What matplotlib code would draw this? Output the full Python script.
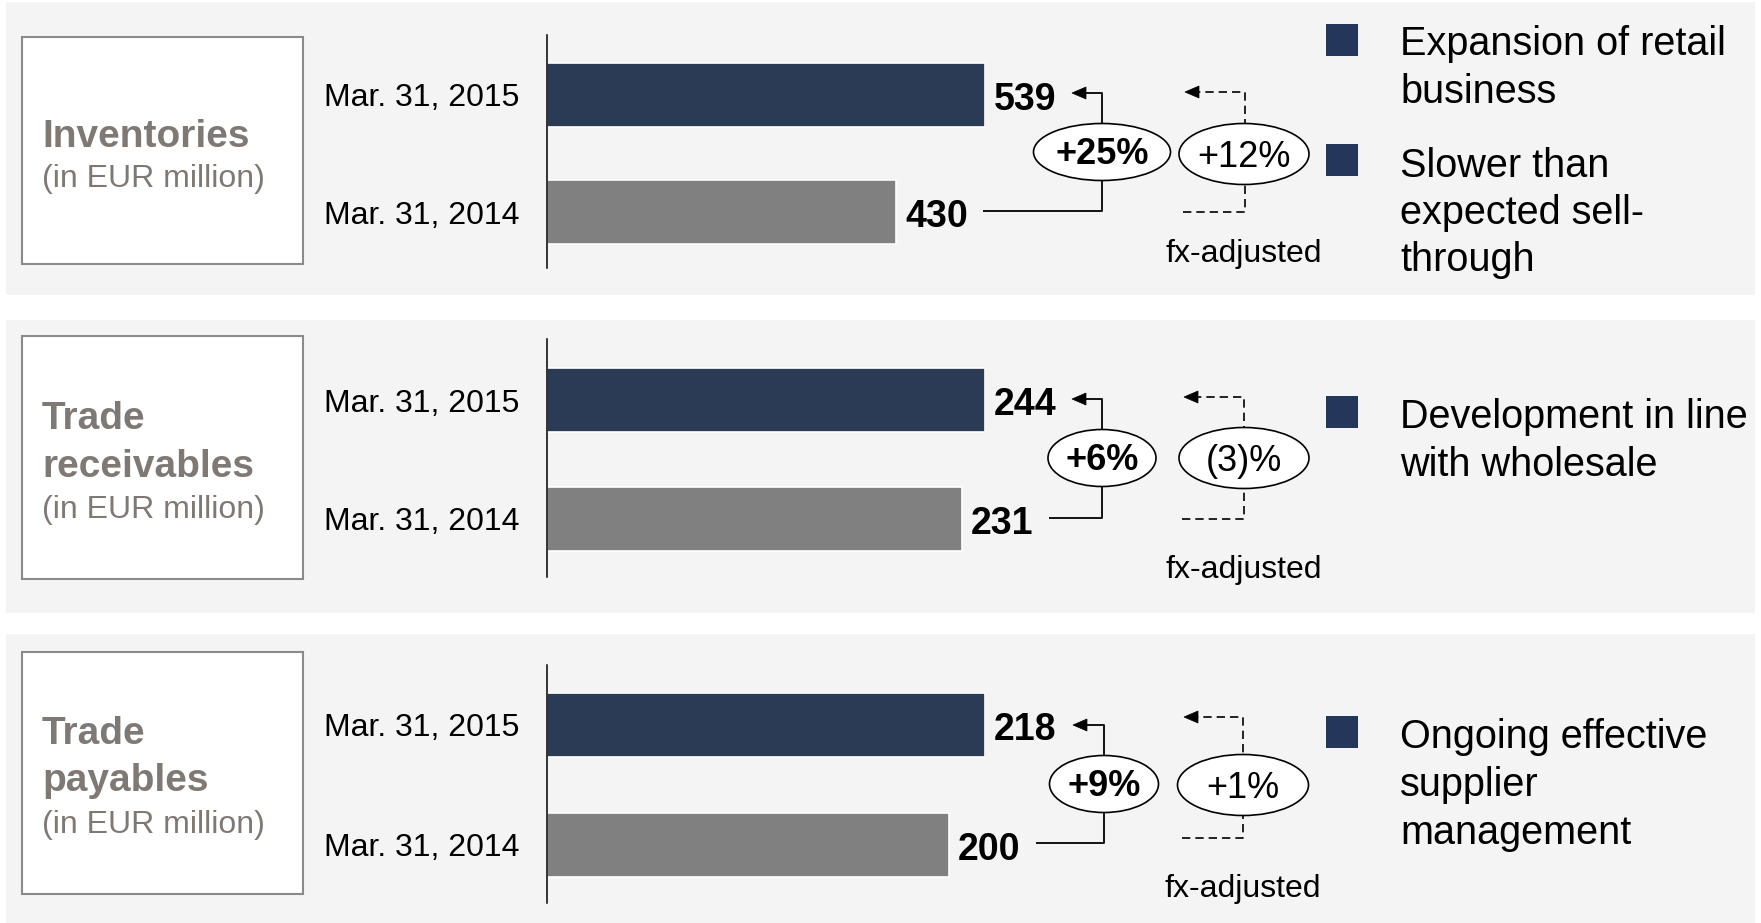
import matplotlib.pyplot as plt
from matplotlib.patches import Rectangle, Ellipse, Polygon

plt.rcParams['font.family'] = ['Liberation Sans', 'DejaVu Sans']

# data
title_lines = [["Inventories"], ["Trade", "receivables"], ["Trade", "payables"]]
unit = "(in EUR million)"
dates = ["Mar. 31, 2015", "Mar. 31, 2014"]
val_2015 = [539, 244, 218]
val_2014 = [430, 231, 200]
growth = ["+25%", "+6%", "+9%"]
growth_fx = ["+12%", "(3)%", "+1%"]
fx_label = "fx-adjusted"
bullets = [
    [["Expansion of retail", "business"], ["Slower than", "expected sell-", "through"]],
    [["Development in line", "with wholesale"]],
    [["Ongoing effective", "supplier", "management"]],
]

NAVY = "#2b3b56"
SQ = "#243659"
GREY = "#808080"
TITLE = "#7e7974"
BG = "#f4f4f4"

W, H = 1761, 923

# pixel layout of each panel
layout = [
    dict(bg=(2, 295), box=(37, 264), axis=(35, 268), bars=(95, 212),
         title=[147], unit=187, ell=(1102, 152, 137), fxell=(1244, 154, 130),
         brk=(1102, 1072, 93, 211), fxbrk=(1245, 1185, 1183, 92, 212), fxt=254,
         sq=[24, 144], bul=[[55, 103], [177, 224, 271]]),
    dict(bg=(320, 613), box=(336, 579), axis=(339, 577), bars=(400, 519),
         title=[429, 477], unit=518, ell=(1102, 458, 108), fxell=(1244, 458, 130),
         brk=(1102, 1072, 399, 518), fxbrk=(1244, 1184, 1182, 397, 519), fxt=570,
         sq=[396], bul=[[428, 476]]),
    dict(bg=(634, 923), box=(652, 894), axis=(665, 903), bars=(725, 845),
         title=[744, 791], unit=833, ell=(1104, 784, 109), fxell=(1243, 785, 131),
         brk=(1104, 1073, 725, 843), fxbrk=(1243, 1184, 1182, 717, 838), fxt=889,
         sq=[716], bul=[[748, 796, 844]]),
]

AX_L, AX_W = 547, 438

fig = plt.figure(figsize=(W / 100, H / 100), dpi=100)
ov = fig.add_axes([0, 0, 1, 1], zorder=0)
ov.set_xlim(0, W)
ov.set_ylim(H, 0)
ov.axis('off')


def head(x, y):
    ov.add_patch(Polygon([[x, y], [x + 14, y - 6], [x + 14, y + 6]], closed=True,
                         facecolor='black', edgecolor='black', lw=0.5, zorder=4))


for i, L in enumerate(layout):
    t, b = L['bg']
    ov.add_patch(Rectangle((6, t), 1749, b - t, facecolor=BG, edgecolor='none', zorder=0))
    t, b = L['box']
    ov.add_patch(Rectangle((22, t), 281, b - t, facecolor='white', edgecolor='#8a8a8a',
                           lw=1.5, zorder=1))
    for k, line in enumerate(title_lines[i]):
        ov.text(42, L['title'][k], line, fontsize=28, fontweight='bold', color=TITLE,
                ha='left', va='baseline', zorder=2)
    ov.text(42, L['unit'], unit, fontsize=23, color=TITLE, ha='left', va='baseline', zorder=2)

    # bars
    at, ab = L['axis']
    c0, c1 = L['bars']
    s = c1 - c0
    ax = fig.add_axes([AX_L / W, 1 - ab / H, AX_W / W, (ab - at) / H], zorder=1)
    ax.patch.set_alpha(0)
    ax.barh([0, 1], [val_2015[i], val_2014[i]], height=64 / s, color=[NAVY, GREY],
            edgecolor='white', lw=1.2)
    ax.set_xlim(0, val_2015[i])
    ax.set_ylim(1 + (ab - c1) / s, -(c0 - at) / s)
    ax.set_yticks([0, 1], dates, fontsize=23)
    ax.tick_params(axis='y', length=0, pad=20)
    ax.set_xticks([])
    for sp in ['top', 'right', 'bottom']:
        ax.spines[sp].set_visible(False)
    ax.spines['left'].set_linewidth(1.1)
    ax.spines['left'].set_color('black')
    for k, v in enumerate([val_2015[i], val_2014[i]]):
        ax.annotate(str(v), (v, k), xytext=(9, -15), textcoords='offset pixels',
                    fontsize=27, fontweight='bold', ha='left', va='baseline',
                    annotation_clip=False)

    # solid bracket
    xv, tip, yt, yb = L['brk']
    x0 = AX_L + AX_W * val_2014[i] / val_2015[i] + 87
    ov.plot([x0, xv, xv, tip + 10], [yb, yb, yt, yt], color='black', lw=1.3,
            solid_capstyle='butt', zorder=3)
    head(tip, yt)
    ex, ey, ew = L['ell']
    ov.add_patch(Ellipse((ex, ey), ew, 57, facecolor='white', edgecolor='black', lw=1.2, zorder=5))
    ov.text(ex, ey + 12, growth[i], fontsize=26, fontweight='bold', ha='center',
            va='baseline', zorder=6)

    # dashed bracket
    xd, tipd, x0d, ydt, ydb = L['fxbrk']
    ov.plot([x0d, xd, xd, tipd + 12], [ydb, ydb, ydt, ydt], color='black', lw=1.2,
            ls=(0, (5, 3)), zorder=3)
    head(tipd, ydt)
    fx_x, fx_y, fx_w = L['fxell']
    ov.add_patch(Ellipse((fx_x, fx_y), fx_w, 61, facecolor='white', edgecolor='black', lw=1.2, zorder=5))
    ov.text(fx_x, fx_y + 13, growth_fx[i], fontsize=26, ha='center', va='baseline', zorder=6)
    ov.text(fx_x, L['fxt'], fx_label, fontsize=23, ha='center', va='center', zorder=6)

    # bullets
    for j, lines in enumerate(bullets[i]):
        ov.add_patch(Rectangle((1326, L['sq'][j]), 32, 32, facecolor=SQ, edgecolor='none', zorder=2))
        for k, line in enumerate(lines):
            ov.text(1400, L['bul'][j][k], line, fontsize=28.5, ha='left', va='baseline', zorder=2)

fig.savefig("out.png", dpi=100, facecolor='white')
